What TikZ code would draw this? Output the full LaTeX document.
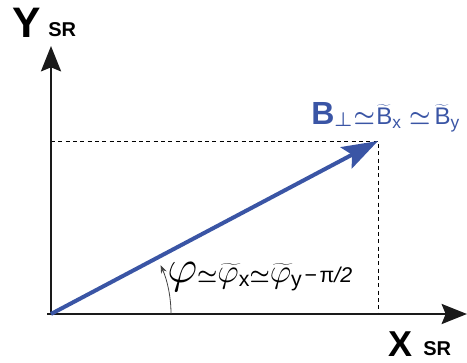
\documentclass[tikz,border=0pt]{standalone}
\usepackage{fix-cm}
\usepackage{fontspec}
\setmainfont{Liberation Sans}
\usetikzlibrary{arrows.meta}
\definecolor{vecblue}{HTML}{3A55A5}
\definecolor{axisgray}{HTML}{1A1A1A}
\newcommand{\fs}[1]{\fontsize{#1}{#1}\selectfont}
\begin{document}
\begin{tikzpicture}[x=0.75pt,y=-0.75pt,
  axisline/.style={line width=2pt,draw=axisgray,-{Stealth[length=19pt,width=15pt,inset=3pt]}},
  vecline/.style={line width=3pt,draw=vecblue,-{Stealth[length=27pt,width=18pt,inset=5pt]}},
  guide/.style={line width=0.7pt,dash pattern=on 3pt off 2.5pt,draw=black},
  anglearc/.style={line width=0.6pt,draw=black!75,-{Stealth[length=6pt,width=4.5pt]}},
  axislabel/.style={inner sep=0pt,anchor=base west,font=\bfseries}
]
\useasboundingbox (0,0) rectangle (467,363);
\coordinate (O) at (51,314);
\coordinate (Ostart) at (47,314);
\coordinate (Ytip) at (51,46);
\coordinate (Xtip) at (467,314);
\coordinate (B) at (378,141);
\coordinate (A0) at (171,314);
% guides
\draw[guide] (O |- B) -- (B) -- (B |- O);
% axes
\draw[axisline] (51,315) -- (Ytip);
\draw[axisline] (Ostart) -- (Xtip);
% vector
\draw[vecline] (O) -- (B);
% angle arc
\draw[anglearc] (A0) arc[start angle=0,end angle=-24,radius=120];
% labels
\node[axislabel] (ylab) at (12,38) {\fs{32}Y};
\node[axislabel] (ysr) at (48,37) {\fs{15}SR};
\node[axislabel] (xlab) at (388,356) {\fs{27}X};
\node[axislabel] (xsr) at (423,355) {\fs{15}SR};
\node[inner sep=0pt,anchor=base west,text=vecblue] (blab) at (311,125)
 {{\fs{24}\bfseries B}\raisebox{-1pt}{\fs{15}\boldmath$\perp$}\hspace{1pt}{\fs{18}\boldmath$\simeq$}\hspace{1pt}{\fs{18}$\widetilde{\mbox{B}}$}\raisebox{-3pt}{\fs{13}x}\hspace{6pt}{\fs{18}\boldmath$\simeq$}\hspace{3pt}{\fs{18}$\widetilde{\mbox{B}}$}\raisebox{-3pt}{\fs{13}y}};
\node[inner sep=0pt,anchor=base west] (plab) at (167,282)
 {{\fs{35}$\varphi$}{\fs{17}\boldmath$\simeq$}{\fs{25}$\widetilde{\varphi}$}\raisebox{-3pt}{\fs{16}x}{\fs{17}\boldmath$\simeq$}{\fs{25}$\widetilde{\varphi}$}\raisebox{-3pt}{\fs{16}y}\hspace{2pt}{\fs{16}−\hspace{2pt}π{\itshape /2}}};
\end{tikzpicture}
\end{document}
